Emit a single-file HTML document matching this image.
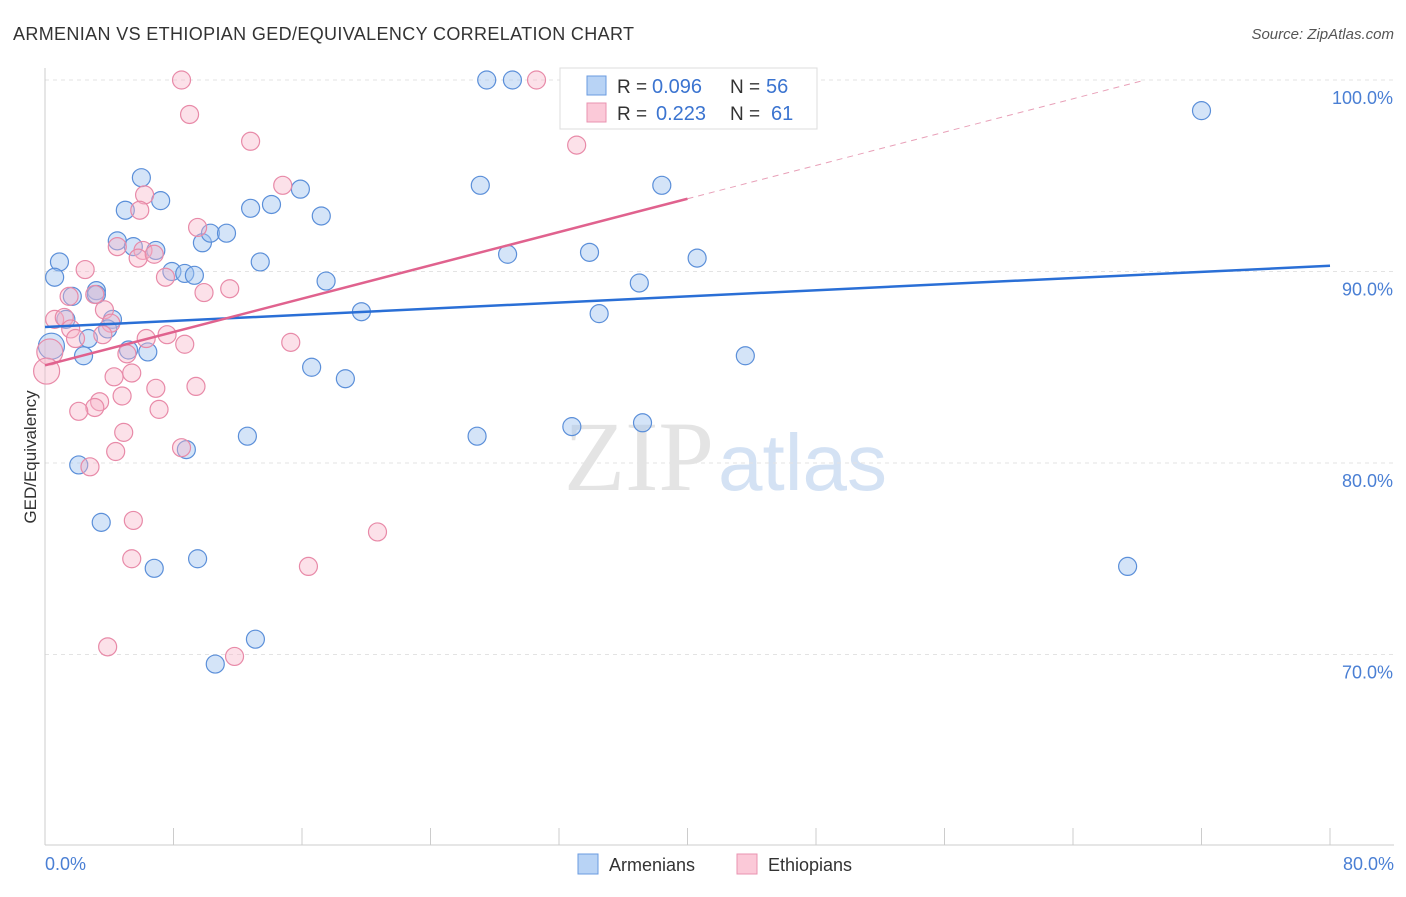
<!DOCTYPE html>
<html><head><meta charset="utf-8"><style>
body{margin:0;background:#fff;font-family:"Liberation Sans",sans-serif;}
svg text{font-family:"Liberation Sans",sans-serif;}
</style></head><body>
<svg width="1406" height="892" id="svg">
<text x="13" y="40" font-size="18" fill="#333" textLength="621">ARMENIAN VS ETHIOPIAN GED/EQUIVALENCY CORRELATION CHART</text>
<text x="1394" y="39" font-size="15" fill="#555" font-style="italic" text-anchor="end">Source: ZipAtlas.com</text>
<text x="714" y="490" font-size="100" fill="#e4e4e4" text-anchor="end" style="font-family:'Liberation Serif',serif">ZIP</text>
<text x="718" y="490" font-size="80" fill="#d4e2f4">atlas</text>
<g id="grid"></g>
<line x1="45" y1="68" x2="45" y2="845" stroke="#ccc"/>
<line x1="45" y1="845" x2="1394" y2="845" stroke="#ccc"/>
<g id="ticks"></g>
<text x="36" y="457" font-size="17" fill="#333" transform="rotate(-90 36 457)" text-anchor="middle">GED/Equivalency</text>
<text x="45" y="870" font-size="18" fill="#4a7fd4">0.0%</text>
<text x="1394" y="870" font-size="18" fill="#4a7fd4" text-anchor="end">80.0%</text>
<g id="pts"></g>
<g id="lines"></g>
<g>
<rect x="560" y="68" width="257" height="61" fill="#fff" stroke="#ddd"/>
<rect x="587" y="76" width="19" height="19" fill="#b8d3f5" stroke="#6a9be0"/>
<rect x="587" y="103" width="19" height="19" fill="#fbc9d8" stroke="#ea93b0"/>
<text x="617" y="93" font-size="19" fill="#333">R =</text>
<text x="652" y="93" font-size="20" fill="#3b74d0">0.096</text>
<text x="730" y="93" font-size="19" fill="#333">N =</text>
<text x="766" y="93" font-size="20" fill="#3b74d0">56</text>
<text x="617" y="120" font-size="19" fill="#333">R =</text>
<text x="656" y="120" font-size="20" fill="#3b74d0">0.223</text>
<text x="730" y="120" font-size="19" fill="#333">N =</text>
<text x="771" y="120" font-size="20" fill="#3b74d0">61</text>
</g>
<g>
<rect x="578" y="854" width="20" height="20" fill="#b8d3f5" stroke="#6a9be0"/>
<text x="609" y="871" font-size="18" fill="#333">Armenians</text>
<rect x="737" y="854" width="20" height="20" fill="#fbc9d8" stroke="#ea93b0"/>
<text x="768" y="871" font-size="18" fill="#333">Ethiopians</text>
</g>
</svg>
<script>
const yTicks=[100,90,80,70];
const yTickLabels=["100.0%","90.0%","80.0%","70.0%"];
const xTicks=[0,8,16,24,32,40,48,56,64,72,80];
const armX=[27.5,29.1,72.0,6.0,7.2,5.0,12.8,14.1,15.9,17.2,27.1,38.4,4.5,5.5,6.9,9.8,10.3,11.3,0.9,0.6,7.9,8.7,9.3,13.4,17.5,28.8,33.9,40.6,37.0,1.7,3.2,3.2,19.7,34.5,4.2,3.9,2.7,1.3,0.4,2.4,5.2,6.4,16.6,18.7,43.6,12.6,26.9,32.8,37.2,2.1,8.8,3.5,6.8,9.5,13.1,10.6,67.4];
const armY=[100,100,98.4,94.9,93.7,93.2,93.3,93.5,94.3,92.9,94.5,94.5,91.6,91.3,91.1,91.5,92.0,92.0,90.5,89.7,90.0,89.9,89.8,90.5,89.5,90.9,91.0,90.7,89.4,88.7,89.0,88.8,87.9,87.8,87.5,87.0,86.5,87.5,86.1,85.6,85.9,85.8,85.0,84.4,85.6,81.4,81.4,81.9,82.1,79.9,80.7,76.9,74.5,75.0,70.8,69.5,74.6];
const ethX=[8.5,30.6,9.0,12.8,33.1,14.8,6.2,5.9,9.5,4.5,6.1,5.8,6.8,2.5,7.5,11.5,9.9,1.5,3.1,3.7,0.6,1.2,1.6,4.1,1.9,3.6,6.3,7.6,8.7,15.3,5.1,0.3,0.1,4.3,5.4,6.9,9.4,4.8,3.4,3.1,2.1,7.1,4.9,8.5,4.4,2.8,5.5,20.7,5.4,16.4,3.9,11.8];
const ethY=[100,100,98.2,96.8,96.6,94.5,94.0,93.2,92.3,91.3,91.1,90.7,90.9,90.1,89.7,89.1,88.9,88.7,88.8,88.0,87.5,87.6,87.0,87.3,86.5,86.7,86.5,86.7,86.2,86.3,85.7,85.8,84.8,84.5,84.7,83.9,84.0,83.5,83.2,82.9,82.7,82.8,81.6,80.8,80.6,79.8,77.0,76.4,75.0,74.6,70.4,69.9];
const armLine=[87.1,90.3];
const ethLine=[85.1,93.8];
const NS="http://www.w3.org/2000/svg";
const sx=v=>45+v*(1285/80);
const sy=v=>80+(100-v)*19.15;
function mk(t,a,p){const e=document.createElementNS(NS,t);for(const k in a)e.setAttribute(k,a[k]);document.getElementById(p).appendChild(e);return e;}
yTicks.forEach((t,i)=>{
 const l=mk('line',{x1:45,x2:1394,y1:sy(t),y2:sy(t),stroke:'#e3e3e3','stroke-dasharray':'4,4'},'grid');
 
 
 const tx=mk('text',{x:1393,y:sy(t)+24,'font-size':18,fill:'#4a7fd4','text-anchor':'end'},'grid');
 tx.textContent=yTickLabels[i];
 
 
});
xTicks.forEach(t=>{
 const l=mk('line',{x1:sx(t),x2:sx(t),y1:828,y2:845,stroke:'#ccc'},'ticks');
 
 
});
function pts(X,Y,fill,stroke,name){
 X.forEach((x,i)=>{
  const r=(x<0.5)?13:9;
  const c=mk('circle',{cx:sx(x),cy:sy(Y[i]),r:r,fill:fill,stroke:stroke,'stroke-width':1.2},'pts');
  
  
 });
}
pts(armX,armY,'rgba(160,196,240,0.45)','#5b8fd9','armenian-point');
pts(ethX,ethY,'rgba(248,180,200,0.4)','#e88aa8','ethiopian-point');
const bl=mk('line',{x1:sx(0),y1:sy(armLine[0]),x2:sx(80),y2:sy(armLine[1]),stroke:'#2a6fd6','stroke-width':2.5},'lines');


const slope=(ethLine[1]-ethLine[0])/40;
const xEnd=(100-ethLine[0])/slope;
const pl=mk('line',{x1:sx(0),y1:sy(ethLine[0]),x2:sx(40),y2:sy(ethLine[1]),stroke:'#e0628e','stroke-width':2.5},'lines');


const pd=mk('line',{x1:sx(40),y1:sy(ethLine[1]),x2:sx(xEnd),y2:sy(100),stroke:'#e8a0b8','stroke-width':1,'stroke-dasharray':'6,5'},'lines');


</script>
</body></html>
